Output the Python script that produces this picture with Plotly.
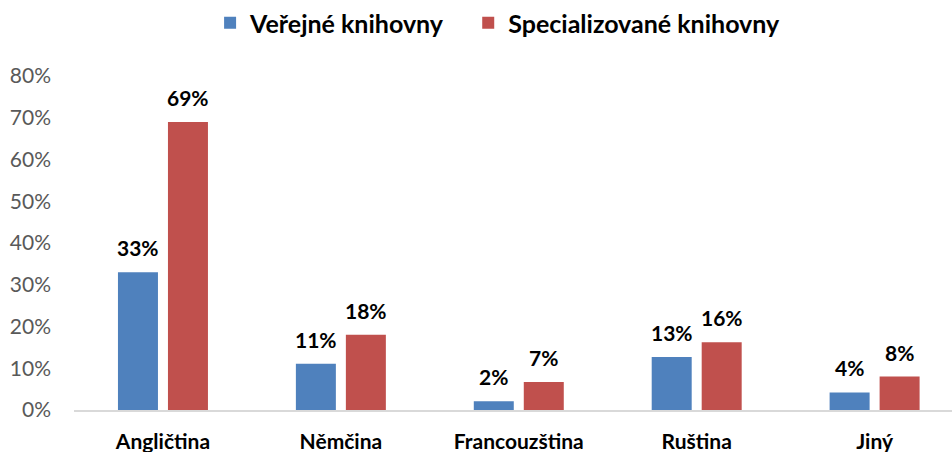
import plotly.graph_objects as go

categories = ["Angličtina", "Němčina", "Francouzština", "Ruština", "Jiný"]
verejne = [0.33, 0.111, 0.021, 0.127, 0.042]
specializovane = [0.69, 0.18, 0.067, 0.162, 0.08]
series_names = ["Veřejné knihovny", "Specializované knihovny"]
colors = ["#4F81BD", "#C0504D"]
y_ticks = [0, 0.1, 0.2, 0.3, 0.4, 0.5, 0.6, 0.7, 0.8]

FONT = "Lato"

fig = go.Figure()
for name, vals, col, lg in zip(series_names, [verejne, specializovane], colors,
                               ["legend", "legend2"]):
    fig.add_trace(go.Bar(
        x=categories, y=vals, name=name, legend=lg,
        marker=dict(color=col, line=dict(width=0)),
    ))

# data labels via annotations placed with the axis scales
for i, vals in enumerate([verejne, specializovane]):
    shift = -25 if i == 0 else 25
    for c, v in zip(categories, vals):
        fig.add_annotation(
            x=c, y=v, xref="x", yref="y", text=f"{v*100:.0f}%",
            showarrow=False, xshift=shift, yanchor="bottom", yshift=10,
            font=dict(family=FONT, size=21, color="#000000", weight="bold"),
        )

legend_font = dict(family=FONT, size=25, color="#000000", weight="bold")
fig.update_layout(
    width=952, height=452,
    margin=dict(l=74, r=0, t=75, b=42),
    paper_bgcolor="white", plot_bgcolor="white",
    barmode="group", bargap=0.438, bargroupgap=0.2,
    showlegend=True,
    legend=dict(orientation="h", x=0.155, xanchor="left", y=1.16, yanchor="middle",
                font=legend_font, itemwidth=30),
    legend2=dict(orientation="h", x=0.449, xanchor="left", y=1.16, yanchor="middle",
                 font=legend_font, itemwidth=30),
    xaxis=dict(range=[-0.5, 4.435], showgrid=False, showline=True, linecolor="#D9D9D9",
               linewidth=2, ticks="", ticklabelstandoff=12,
               tickfont=dict(family=FONT, size=21, color="#000000", weight="bold")),
    yaxis=dict(range=[0, 0.8], tickvals=y_ticks, tickformat=".0%", showgrid=False,
               zeroline=False, showline=False, ticks="", ticklabelstandoff=22,
               tickfont=dict(family=FONT, size=21, color="#595959")),
)

fig.write_html("out.html", config={"displayModeBar": False},
               post_script="document.body.style.margin='0';")
